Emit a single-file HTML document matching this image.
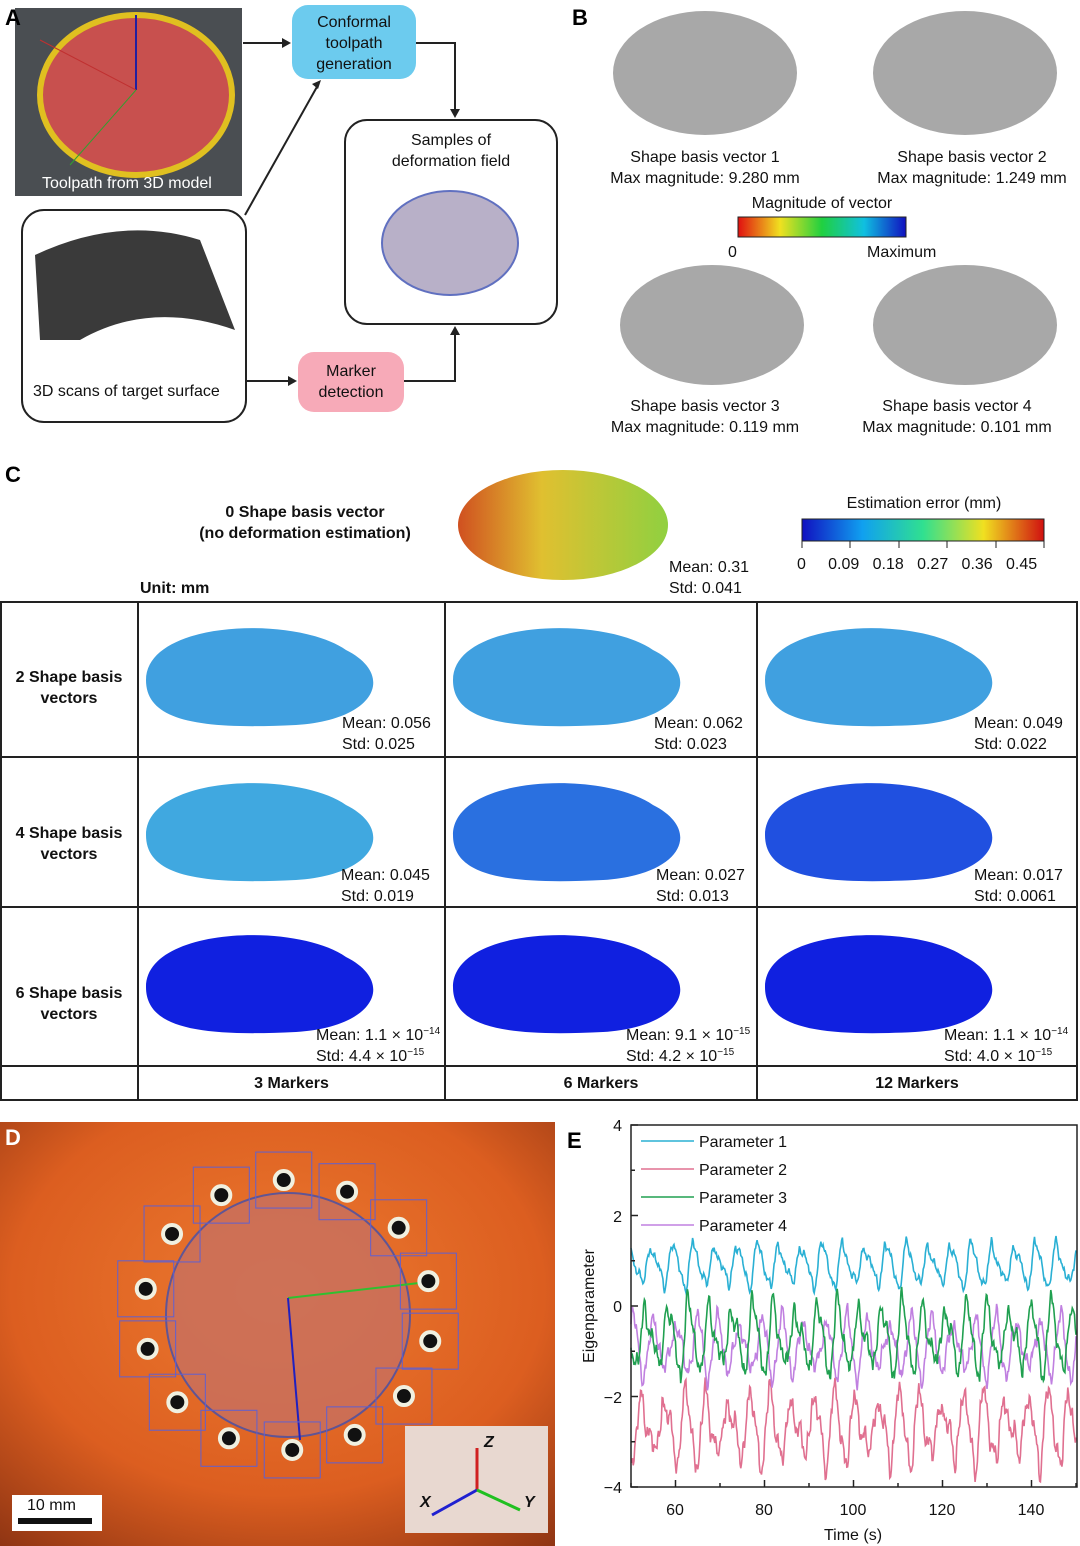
<!DOCTYPE html>
<html><head><meta charset="utf-8"><style>
body{margin:0;background:#fff;font-family:"Liberation Sans",sans-serif;}
#root{position:relative;width:1080px;height:1546px;overflow:hidden;}
.a{position:absolute;}
.t{position:absolute;font-size:16px;color:#111;white-space:nowrap;}
.c{text-align:center;}
.L{position:absolute;font-weight:bold;font-size:22px;}
sup{font-size:10px;line-height:0;vertical-align:6px;}
</style></head><body><div id="root">
<svg class="a" style="left:0;top:0" width="1080" height="1546">
<defs>
<radialGradient id="liver" cx="0.5" cy="0.4" r="0.8"><stop offset="0" stop-color="#ec7a30"/><stop offset="0.6" stop-color="#dc5e20"/><stop offset="1" stop-color="#8a3212"/></radialGradient>
<linearGradient id="rb" x1="0" x2="1"><stop offset="0" stop-color="#e01010"/><stop offset="0.25" stop-color="#f0e020"/><stop offset="0.5" stop-color="#20d040"/><stop offset="0.75" stop-color="#10c0e0"/><stop offset="1" stop-color="#1010c0"/></linearGradient>
<linearGradient id="jet" x1="0" x2="1"><stop offset="0" stop-color="#1010c0"/><stop offset="0.25" stop-color="#10a0f0"/><stop offset="0.5" stop-color="#30e090"/><stop offset="0.75" stop-color="#f0e020"/><stop offset="1" stop-color="#d01010"/></linearGradient>
<linearGradient id="yel" x1="0" x2="1"><stop offset="0" stop-color="#d05020"/><stop offset="0.4" stop-color="#e0c030"/><stop offset="1" stop-color="#90d040"/></linearGradient>
</defs>
<rect x="15" y="8" width="227" height="188" fill="#4a4e52"/>
<ellipse cx="136" cy="95" rx="96" ry="80" fill="#c8504e" stroke="#e0c020" stroke-width="6"/>
<line x1="136" y1="15" x2="136" y2="90" stroke="#2020a0" stroke-width="2"/>
<line x1="40" y1="40" x2="136" y2="90" stroke="#c03030" stroke-width="1"/>
<line x1="70" y1="165" x2="136" y2="90" stroke="#30a030" stroke-width="1"/>
<rect x="22" y="210" width="224" height="212" rx="22" fill="#fff" stroke="#222" stroke-width="2"/>
<path d="M35 255 Q120 215 200 240 L235 330 Q150 300 80 340 L40 340 Z" fill="#3a3a3a"/>
<rect x="345" y="120" width="212" height="204" rx="22" fill="#fff" stroke="#222" stroke-width="2"/>
<ellipse cx="450" cy="243" rx="68" ry="52" fill="#b8b0c8" stroke="#6070c0" stroke-width="2"/>
<rect x="292" y="5" width="124" height="74" rx="16" fill="#6ccbee"/>
<rect x="298" y="352" width="106" height="60" rx="16" fill="#f7aab8"/>
<g stroke="#222" stroke-width="2" fill="none">
<path d="M243 43 H285"/><path d="M245 215 L318 85"/><path d="M416 43 H455 V112"/><path d="M247 381 H292"/><path d="M404 381 H455 V332"/>
</g>
<g fill="#222"><path d="M291 43 l-9 -5 v10z"/><path d="M321 80 l-9 4 l6 5z"/><path d="M455 118 l-5 -9 h10z"/><path d="M297 381 l-9 -5 v10z"/><path d="M455 326 l-5 9 h10z"/></g>
<g fill="#a8a8a8"><ellipse cx="705" cy="73" rx="92" ry="62"/><ellipse cx="965" cy="73" rx="92" ry="62"/><ellipse cx="712" cy="325" rx="92" ry="60"/><ellipse cx="965" cy="325" rx="92" ry="60"/></g>
<rect x="738" y="217" width="168" height="20" fill="url(#rb)" stroke="#222"/>
<ellipse cx="563" cy="525" rx="105" ry="55" fill="url(#yel)"/>
<rect x="802" y="519" width="242" height="22" fill="url(#jet)" stroke="#222"/>
<g stroke="#222">
<line x1="802" y1="541" x2="802" y2="548"/><line x1="850" y1="541" x2="850" y2="548"/><line x1="899" y1="541" x2="899" y2="548"/><line x1="947" y1="541" x2="947" y2="548"/><line x1="996" y1="541" x2="996" y2="548"/><line x1="1044" y1="541" x2="1044" y2="548"/>
</g>
<g stroke="#222" stroke-width="2" fill="none">
<rect x="1" y="602" width="1076" height="498"/>
<line x1="1" y1="757" x2="1077" y2="757"/><line x1="1" y1="907" x2="1077" y2="907"/><line x1="1" y1="1066" x2="1077" y2="1066"/>
<line x1="138" y1="602" x2="138" y2="1100"/><line x1="445" y1="602" x2="445" y2="1100"/><line x1="757" y1="602" x2="757" y2="1100"/>
</g>
<g id="blobs"></g>
<rect x="0" y="1122" width="555" height="424" fill="url(#liver)"/>
<circle cx="288" cy="1315" r="122" fill="#c87060" stroke="#4050b0" stroke-width="2" opacity="0.8"/>
<line x1="288" y1="1298" x2="428" y2="1282" stroke="#30c030" stroke-width="2"/>
<line x1="288" y1="1298" x2="300" y2="1440" stroke="#2020c0" stroke-width="2"/>
<g id="mk"></g>
<rect x="405" y="1426" width="143" height="107" fill="#e8d8d0"/>
<g stroke-width="3"><line x1="477" y1="1490" x2="477" y2="1448" stroke="#d02020"/><line x1="477" y1="1490" x2="432" y2="1515" stroke="#2020d0"/><line x1="477" y1="1490" x2="520" y2="1510" stroke="#20c020"/></g>
<rect x="12" y="1495" width="90" height="36" fill="#fff"/><rect x="18" y="1518" width="74" height="6" fill="#111"/>
<g id="series" fill="none" stroke-width="1.6"></g>
<rect x="631" y="1125" width="446" height="362" fill="none" stroke="#222" stroke-width="1.5"/>
<g id="ticks" stroke="#222" stroke-width="1.5"></g>
<g font-family="Liberation Sans" font-size="16" fill="#111">
<text x="622" y="1131" text-anchor="end">4</text><text x="622" y="1222" text-anchor="end">2</text><text x="622" y="1312" text-anchor="end">0</text><text x="622" y="1403" text-anchor="end">−2</text><text x="622" y="1493" text-anchor="end">−4</text>
<text x="675" y="1515" text-anchor="middle">60</text><text x="764" y="1515" text-anchor="middle">80</text><text x="853" y="1515" text-anchor="middle">100</text><text x="942" y="1515" text-anchor="middle">120</text><text x="1031" y="1515" text-anchor="middle">140</text>
<text x="853" y="1540" text-anchor="middle">Time (s)</text>
<text transform="translate(594 1306) rotate(-90)" text-anchor="middle">Eigenparameter</text>
<text x="699" y="1147">Parameter 1</text><text x="699" y="1175">Parameter 2</text><text x="699" y="1203">Parameter 3</text><text x="699" y="1231">Parameter 4</text>
</g>
<g stroke-width="1.6"><line x1="641" y1="1141" x2="694" y2="1141" stroke="#2ab0d4"/><line x1="641" y1="1169" x2="694" y2="1169" stroke="#e07090"/><line x1="641" y1="1197" x2="694" y2="1197" stroke="#20a050"/><line x1="641" y1="1225" x2="694" y2="1225" stroke="#c080e0"/></g>
</svg>
<div class="L" style="left:5px;top:5px">A</div><div class="L" style="left:572px;top:5px">B</div><div class="L" style="left:5px;top:462px">C</div><div class="L" style="left:5px;top:1125px;color:#fff">D</div><div class="L" style="left:567px;top:1128px">E</div>
<div class="t c" style="left:292px;top:12px;width:124px;line-height:21px">Conformal<br>toolpath<br>generation</div>
<div class="t c" style="left:298px;top:361px;width:106px;line-height:21px">Marker<br>detection</div>
<div class="t c" style="left:345px;top:130px;width:212px;line-height:21px">Samples of<br>deformation field</div>
<div class="t" style="left:42px;top:175px;color:#fff">Toolpath from 3D model</div>
<div class="t" style="left:33px;top:383px">3D scans of target surface</div>
<div class="t c" style="left:580px;top:147px;width:250px;line-height:21px">Shape basis vector 1<br>Max magnitude: 9.280 mm</div>
<div class="t c" style="left:847px;top:147px;width:250px;line-height:21px">Shape basis vector 2<br>Max magnitude: 1.249 mm</div>
<div class="t c" style="left:580px;top:396px;width:250px;line-height:21px">Shape basis vector 3<br>Max magnitude: 0.119 mm</div>
<div class="t c" style="left:832px;top:396px;width:250px;line-height:21px">Shape basis vector 4<br>Max magnitude: 0.101 mm</div>
<div class="t c" style="left:700px;top:195px;width:244px">Magnitude of vector</div>
<div class="t" style="left:728px;top:244px">0</div><div class="t" style="left:867px;top:244px">Maximum</div>
<div class="t c" style="left:180px;top:502px;width:250px;line-height:21px;font-weight:bold">0 Shape basis vector<br>(no deformation estimation)</div>
<div class="t" style="left:669px;top:557px;line-height:21px">Mean: 0.31<br>Std: 0.041</div>
<div class="t c" style="left:780px;top:495px;width:288px">Estimation error (mm)</div>
<div class="t" style="left:797px;top:556px">0&nbsp;&nbsp;&nbsp;&nbsp;&nbsp;0.09&nbsp;&nbsp;&nbsp;0.18&nbsp;&nbsp;&nbsp;0.27&nbsp;&nbsp;&nbsp;0.36&nbsp;&nbsp;&nbsp;0.45</div>
<div class="t" style="left:140px;top:580px;font-weight:bold">Unit: mm</div>
<div class="t c" style="left:0;top:667px;width:138px;line-height:21px;font-weight:bold">2 Shape basis<br>vectors</div>
<div class="t c" style="left:0;top:823px;width:138px;line-height:21px;font-weight:bold">4 Shape basis<br>vectors</div>
<div class="t c" style="left:0;top:983px;width:138px;line-height:21px;font-weight:bold">6 Shape basis<br>vectors</div>
<div class="t c" style="left:138px;top:1075px;width:307px;font-weight:bold">3 Markers</div>
<div class="t c" style="left:445px;top:1075px;width:312px;font-weight:bold">6 Markers</div>
<div class="t c" style="left:757px;top:1075px;width:320px;font-weight:bold">12 Markers</div>
<div class="t" style="left:342px;top:713px;line-height:21px">Mean: 0.056<br>Std: 0.025</div>
<div class="t" style="left:654px;top:713px;line-height:21px">Mean: 0.062<br>Std: 0.023</div>
<div class="t" style="left:974px;top:713px;line-height:21px">Mean: 0.049<br>Std: 0.022</div>
<div class="t" style="left:341px;top:865px;line-height:21px">Mean: 0.045<br>Std: 0.019</div>
<div class="t" style="left:656px;top:865px;line-height:21px">Mean: 0.027<br>Std: 0.013</div>
<div class="t" style="left:974px;top:865px;line-height:21px">Mean: 0.017<br>Std: 0.0061</div>
<div class="t" style="left:316px;top:1025px;line-height:21px">Mean: 1.1 × 10<sup>−14</sup><br>Std: 4.4 × 10<sup>−15</sup></div>
<div class="t" style="left:626px;top:1025px;line-height:21px">Mean: 9.1 × 10<sup>−15</sup><br>Std: 4.2 × 10<sup>−15</sup></div>
<div class="t" style="left:944px;top:1025px;line-height:21px">Mean: 1.1 × 10<sup>−14</sup><br>Std: 4.0 × 10<sup>−15</sup></div>
<div class="t" style="left:27px;top:1497px">10 mm</div>
<div class="t" style="left:420px;top:1494px;font-weight:bold;font-style:italic">X</div>
<div class="t" style="left:484px;top:1434px;font-weight:bold;font-style:italic">Z</div>
<div class="t" style="left:524px;top:1494px;font-weight:bold;font-style:italic">Y</div>
</div>
<script>
var NS="http://www.w3.org/2000/svg";
function el(p,t,a){var e=document.createElementNS(NS,t);for(var k in a)e.setAttribute(k,a[k]);p.appendChild(e);return e;}
var b=document.getElementById('blobs');
var cols=[[138,445],[445,757],[757,1077]],rows=[[602,757,'#40a0e0'],[757,907,'#3090e0'],[907,1066,'#1020e0']];
rows.forEach(function(r,ri){cols.forEach(function(c,ci){var col=ri==1?['#40a8e0','#2a70e0','#2050e0'][ci]:r[2];var cx=c[0]+118,cy=r[0]+(ri==2?70:68);
el(b,'path',{d:'M'+(cx-110)+' '+(cy+10)+' C'+(cx-110)+' '+(cy-50)+' '+(cx+40)+' '+(cy-55)+' '+(cx+90)+' '+(cy-20)+' C'+(cx+140)+' '+(cy+5)+' '+(cx+120)+' '+(cy+50)+' '+(cx+40)+' '+(cy+55)+' C'+(cx-60)+' '+(cy+60)+' '+(cx-110)+' '+(cy+50)+' '+(cx-110)+' '+(cy+10)+'Z',fill:col});});});
var mk=document.getElementById('mk');
for(var i=0;i<14;i++){var a=i/14*2*Math.PI-1.6;var x=288+Math.cos(a)*145,y=1315+Math.sin(a)*135;
el(mk,'rect',{x:x-28,y:y-28,width:56,height:56,fill:'none',stroke:'#6060d0','stroke-width':1});
el(mk,'circle',{cx:x,cy:y,r:9,fill:'#111',stroke:'#f0f0e0','stroke-width':4});}
var tk=document.getElementById('ticks');
for(var v=-4;v<=4;v++){var y=1306-v*45.25;el(tk,'line',{x1:631,x2:v%2?635:638,y1:y,y2:y});}
for(var s=50;s<=150;s+=10){var x=631+(s-50)*4.45;el(tk,'line',{x1:x,x2:x,y1:1487,y2:s%20==0?1480:1483});}
var sg=document.getElementById('series');
function nz(t,s){return 0.5*Math.sin(t*1.7+s)+0.3*Math.sin(t*3.9+2*s)+0.2*Math.sin(t*7.3+s*3)+0.15*Math.sin(t*13.1+s);}
function ser(col,base,amp,ph,noise,saw){var d='';for(var i=0;i<=600;i++){var t=50+i/6;var p=((t+ph)/4.8)%1;var w=saw?(p<0.3?p/0.3:1-(p-0.3)/0.7)*2-1:Math.sin(p*2*Math.PI);var v=base+amp*w+nz(t,ph)*noise;var x=631+(t-50)*4.45,y=1306-v*45.25;d+=(i?'L':'M')+x.toFixed(1)+' '+y.toFixed(1);}el(sg,'path',{d:d,stroke:col});}
ser('#2ab0d4',0.9,0.5,0,0.2,true);
ser('#e07090',-2.7,0.8,2,0.5,true);
ser('#c080e0',-0.9,0.55,3.5,0.4,false);
ser('#20a050',-0.7,0.8,1.2,0.4,true);
</script>
</body></html>
